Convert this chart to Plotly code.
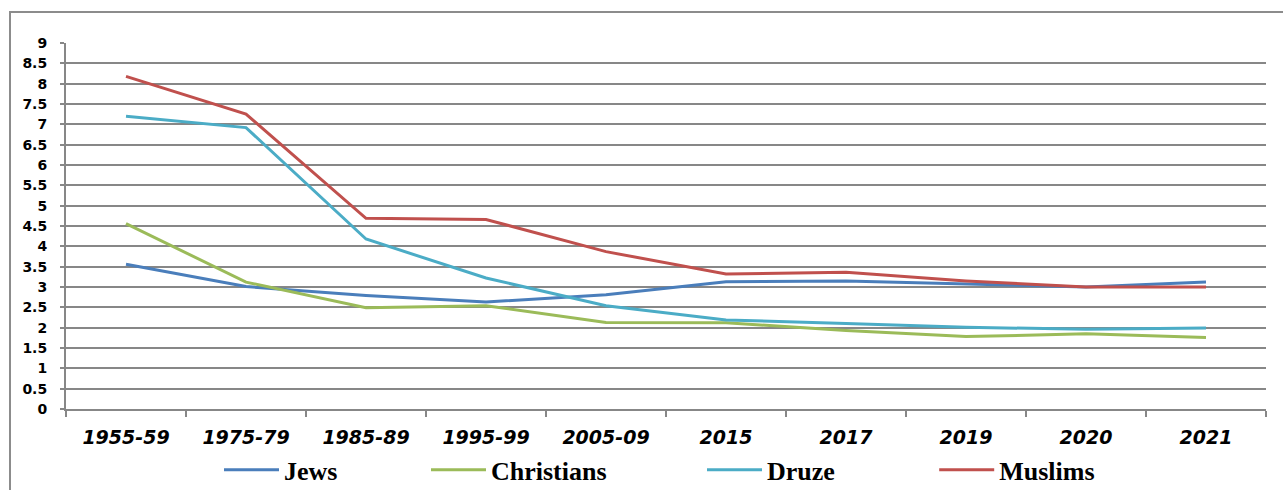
import plotly.graph_objects as go

periods = ["1955-59", "1975-79", "1985-89", "1995-99", "2005-09",
           "2015", "2017", "2019", "2020", "2021"]

jews = [3.56, 3.01, 2.79, 2.63, 2.81, 3.13, 3.15, 3.08, 3.00, 3.12]
christians = [4.56, 3.12, 2.49, 2.54, 2.13, 2.12, 1.93, 1.78, 1.85, 1.76]
druze = [7.20, 6.92, 4.18, 3.22, 2.54, 2.19, 2.10, 2.01, 1.96, 1.99]
muslims = [8.18, 7.25, 4.69, 4.66, 3.87, 3.32, 3.36, 3.15, 3.00, 3.00]

series = [
    ("Jews", jews, "#4A7EBB"),
    ("Christians", christians, "#9BBB59"),
    ("Druze", druze, "#4BACC6"),
    ("Muslims", muslims, "#C0504D"),
]

# one legend box per series so the entries sit spread out under the axis
legend_ids = ["legend", "legend2", "legend3", "legend4"]
legend_x = [0.1275, 0.3, 0.53, 0.7235]

fig = go.Figure()
for (name, vals, color), lid in zip(series, legend_ids):
    fig.add_trace(go.Scatter(
        x=periods, y=vals, name=name, mode="lines",
        line=dict(color=color, width=3), legend=lid,
    ))

legend_style = dict(
    orientation="h", xanchor="left", yref="paper",
    y=-0.166, yanchor="middle",
    font=dict(family="Liberation Serif", size=26, color="black",
              weight="bold"),
    itemwidth=55, bgcolor="rgba(0,0,0,0)",
)

grid = "#878787"
fig.update_layout(
    width=1283, height=490,
    margin=dict(l=66, r=17, t=43, b=81, autoexpand=False),
    paper_bgcolor="white", plot_bgcolor="white",
    showlegend=True,
    xaxis=dict(
        type="category", tickson="boundaries", ticks="outside",
        ticklen=6, tickcolor=grid, tickwidth=1.5,
        showgrid=False, showline=True, linecolor=grid, linewidth=2,
        ticklabelstandoff=10,
        tickfont=dict(family="DejaVu Sans", size=19, color="black",
                      weight="bold", style="italic"),
        range=[-0.5, 9.5],
    ),
    yaxis=dict(
        range=[0, 9], dtick=0.5, tick0=0, ticks="outside", ticklen=4,
        tickcolor=grid, tickwidth=1.5,
        showgrid=True, gridcolor=grid, gridwidth=2,
        showline=True, linecolor=grid, linewidth=2,
        zeroline=False, ticklabelstandoff=10,
        tickfont=dict(family="DejaVu Sans", size=14, color="black",
                      weight="bold"),
    ),
    shapes=[dict(
        type="rect", xref="paper", yref="paper",
        x0=-56 / 1200, x1=1.2, y0=-0.5, y1=1 + 31 / 366,
        line=dict(color="#8c8c8c", width=2), fillcolor="rgba(0,0,0,0)",
        layer="below",
    )],
)
for lid, lx in zip(legend_ids, legend_x):
    fig.update_layout({lid: dict(legend_style, x=lx)})

fig.write_html("out.html")
